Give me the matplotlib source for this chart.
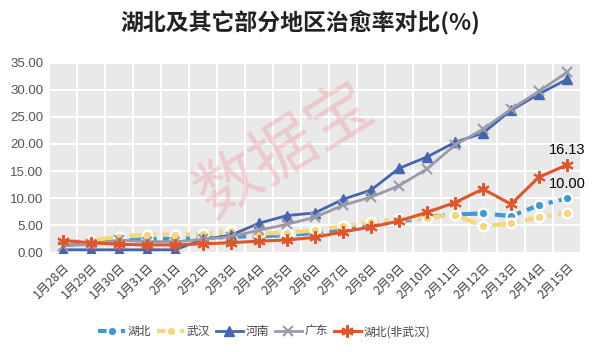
import numpy as np
import matplotlib
matplotlib.use('Agg')
from matplotlib import pyplot as plt

plt.rcParams['font.family'] = ['Liberation Sans', 'Noto Sans CJK SC', 'DejaVu Sans']

dates = ['1月28日', '1月29日', '1月30日', '1月31日', '2月1日', '2月2日', '2月3日',
         '2月4日', '2月5日', '2月6日', '2月7日', '2月8日', '2月9日', '2月10日',
         '2月11日', '2月12日', '2月13日', '2月14日', '2月15日']
hubei = [1.8, 2.0, 2.2, 2.4, 2.6, 2.6, 2.9, 3.0, 3.2, 3.6, 4.3, 5.0, 5.7, 6.5,
         7.0, 7.2, 6.7, 8.7, 10.00]
wuhan = [2.0, 2.2, 2.9, 3.3, 3.3, 3.4, 3.9, 3.5, 3.6, 4.1, 4.8, 5.6, 6.2, 6.4,
         7.0, 4.8, 5.4, 6.5, 7.3]
henan = [0.5, 0.5, 0.5, 0.5, 0.5, 2.4, 3.2, 5.4, 6.8, 7.3, 9.8, 11.5, 15.5, 17.6,
         20.3, 22.0, 26.2, 29.2, 31.9]
guangdong = [1.2, 1.5, 2.3, 2.0, 2.0, 2.4, 2.9, 4.1, 5.2, 6.5, 8.7, 10.2, 12.3, 15.4,
             19.8, 22.7, 26.4, 29.7, 33.2]
hubei_ex = [2.2, 1.8, 1.5, 1.4, 1.4, 1.6, 1.8, 2.1, 2.3, 2.8, 3.8, 4.7, 5.8, 7.4,
            9.2, 11.7, 8.9, 13.9, 16.13]

fig = plt.figure(figsize=(6, 3.52), dpi=100)
ax = fig.add_axes([49/600, (352-252.5)/352, 532/600, 190/352])
ax.set_facecolor('#e9e9e9')
for s in ax.spines.values():
    s.set_visible(False)

x = np.arange(len(dates))

# watermark
fig.text(0.475, 0.57, '数据宝', fontsize=47, color='#f08a96', alpha=0.33,
         rotation=32, ha='center', va='center', family=['Noto Sans CJK SC'], zorder=0)

ax.plot(x, hubei, color='#3d9ad3', lw=3, ls=(0, (4, 1.5, 1, 1.5)), marker='o', ms=7,
        mfc='#3d9ad3', mec='white', mew=1.8, label='湖北', zorder=3)
ax.plot(x, wuhan, color='#f5d77a', lw=3, ls=(0, (4, 1.5, 1, 1.5)), marker='o', ms=7,
        mfc='#f5d77a', mec='white', mew=1.8, label='武汉', zorder=3)
ax.plot(x, henan, color='#4764b0', lw=2, marker='^', ms=7, label='河南', zorder=4)
ax.plot(x, guangdong, color='#9a9aab', lw=2, marker='x', ms=7, mew=1.5, label='广东', zorder=4)
ax.plot(x, hubei_ex, color='#e0562b', lw=2.2, marker=(6, 2, 0), ms=9, mew=1.5,
        label='湖北(非武汉)', zorder=5)

ax.text(x[-1], hubei_ex[-1] + 1.5, '%.2f' % hubei_ex[-1], ha='center', va='bottom', fontsize=10.5)
ax.text(x[-1], hubei[-1] + 1.3, '%.2f' % hubei[-1], ha='center', va='bottom', fontsize=10.5)

ax.set_xlim(-0.5, len(dates) - 0.5)
ax.set_ylim(0, 35)
ax.set_yticks(np.arange(0, 36, 5))
ax.set_yticklabels(['%.2f' % v for v in np.arange(0, 36, 5)], fontsize=9.5, color='#555555')
ax.set_xticks(x)
ax.set_xticklabels(dates, rotation=45, ha='right', rotation_mode='anchor',
                   fontsize=8.8, color='#444444', family=['Noto Sans CJK SC'])
ax.set_xticks(np.arange(-0.5, len(dates)), minor=True)
ax.tick_params(axis='both', which='both', length=0)
ax.tick_params(axis='y', pad=4)
ax.tick_params(axis='x', pad=6)
ax.grid(True, which='minor', axis='x', color='white', lw=1.5)
ax.grid(True, which='major', axis='y', color='white', lw=1.5)
ax.grid(False, which='major', axis='x')
ax.set_axisbelow(True)

fig.text(0.5, 0.937, '湖北及其它部分地区治愈率对比(%)', ha='center', va='center',
         fontsize=16.5, fontweight='bold', color='#222222',
         family=['Noto Sans CJK SC'])

leg = fig.legend(loc='center', bbox_to_anchor=(0.44, 0.058), ncol=5, frameon=False,
                 prop={'family': ['Noto Sans CJK SC'], 'size': 8.5},
                 handlelength=2.3, handletextpad=0.2, columnspacing=0.5)
for t in leg.get_texts():
    t.set_color('#444444')

fig.savefig('out.png', dpi=100)
